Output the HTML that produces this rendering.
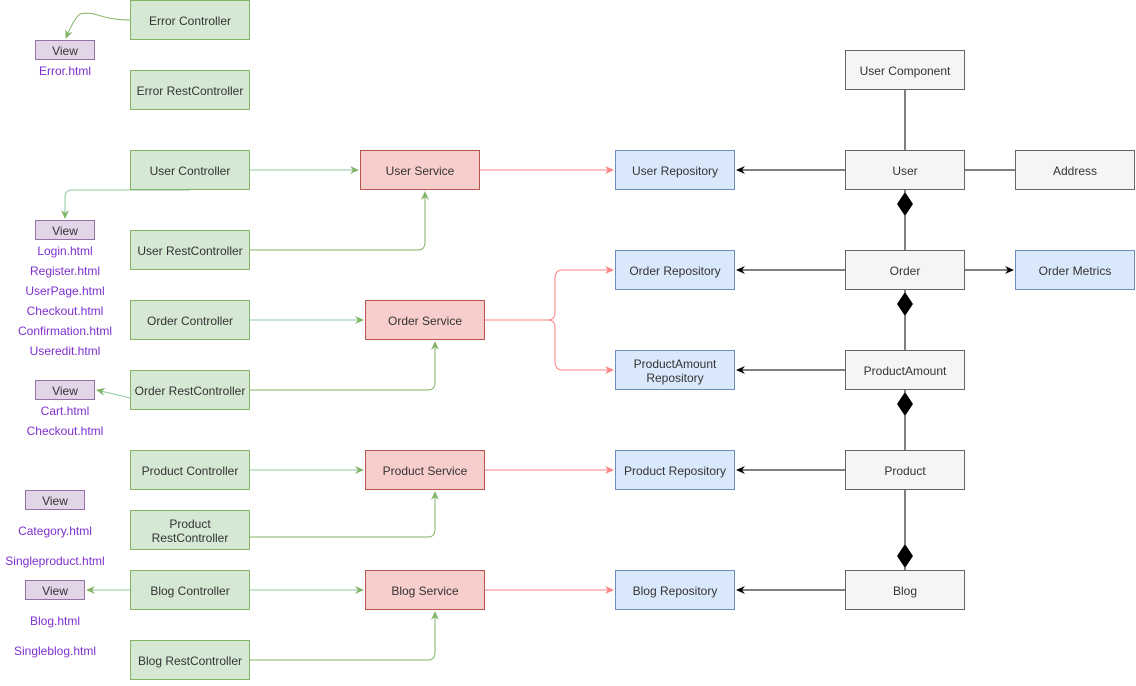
<!DOCTYPE html>
<html><head><meta charset="utf-8"><style>body{margin:0;background:#fff}svg text{font-family:"Liberation Sans",sans-serif;font-size:12px;fill:#333}</style></head>
<body>
<svg width="1136" height="681" viewBox="0 0 1136 681" xmlns="http://www.w3.org/2000/svg">
<defs>
<marker id="ag" markerWidth="10" markerHeight="10" refX="8" refY="5" orient="auto" markerUnits="userSpaceOnUse"><path d="M0,1 L9,5 L0,9 L3,5z" fill="#82b366"/></marker>
<marker id="ar" markerWidth="10" markerHeight="10" refX="8" refY="5" orient="auto" markerUnits="userSpaceOnUse"><path d="M0,1 L9,5 L0,9 L3,5z" fill="#ff8080"/></marker>
<marker id="ak" markerWidth="10" markerHeight="10" refX="8" refY="5" orient="auto" markerUnits="userSpaceOnUse"><path d="M0,1 L9,5 L0,9 L3,5z" fill="#000"/></marker>
</defs>
<g fill="none" stroke-width="1">
<path d="M130,20 C100,20 95,10 80,14 C75,18 70,28 66,38" stroke="#82b366" marker-end="url(#ag)"/>
<path d="M190,190 L72,190 Q65,190 65,198 L65,218" stroke="#8dc8a0" marker-end="url(#ag)"/>
<path d="M130,398 L97,390" stroke="#8dc8a0" marker-end="url(#ag)"/>
<path d="M130,590 L87,590" stroke="#8dc8a0" marker-end="url(#ag)"/>
<path d="M250,170 L358,170" stroke="#8dc8a0" marker-end="url(#ag)"/>
<path d="M250,320 L363,320" stroke="#8dc8a0" marker-end="url(#ag)"/>
<path d="M250,470 L363,470" stroke="#8dc8a0" marker-end="url(#ag)"/>
<path d="M250,590 L363,590" stroke="#8dc8a0" marker-end="url(#ag)"/>
<path d="M250,250 L418,250 Q425,250 425,242 L425,192" stroke="#82b366" marker-end="url(#ag)"/>
<path d="M250,390 L428,390 Q435,390 435,382 L435,342" stroke="#82b366" marker-end="url(#ag)"/>
<path d="M250,537 L428,537 Q435,537 435,529 L435,492" stroke="#82b366" marker-end="url(#ag)"/>
<path d="M250,660 L428,660 Q435,660 435,652 L435,612" stroke="#82b366" marker-end="url(#ag)"/>
<path d="M480,170 L613,170" stroke="#ff8080" marker-end="url(#ar)"/>
<path d="M485,320 L548,320 Q555,320 555,312 L555,278 Q555,270 563,270 L613,270" stroke="#ff8080" marker-end="url(#ar)"/>
<path d="M548,320 Q555,320 555,328 L555,362 Q555,370 563,370 L613,370" stroke="#ff8080" marker-end="url(#ar)"/>
<path d="M485,470 L613,470" stroke="#ff8080" marker-end="url(#ar)"/>
<path d="M485,590 L613,590" stroke="#ff8080" marker-end="url(#ar)"/>
<path d="M845,170 L737,170" stroke="#000" marker-end="url(#ak)"/>
<path d="M845,270 L737,270" stroke="#000" marker-end="url(#ak)"/>
<path d="M845,370 L737,370" stroke="#000" marker-end="url(#ak)"/>
<path d="M845,470 L737,470" stroke="#000" marker-end="url(#ak)"/>
<path d="M845,590 L737,590" stroke="#000" marker-end="url(#ak)"/>
<path d="M965,270 L1013,270" stroke="#000" marker-end="url(#ak)"/>
<path d="M965,170 L1015,170" stroke="#000"/>
<path d="M905,90 L905,150" stroke="#000"/>
<path d="M905,190 L905,250 M905,290 L905,350 M905,390 L905,450 M905,490 L905,570" stroke="#000"/>
</g>
<g fill="#000">
<path d="M905,192 L913,204 L905,216 L897,204z"/>
<path d="M905,292 L913,304 L905,316 L897,304z"/>
<path d="M905,392 L913,404 L905,416 L897,404z"/>
<path d="M905,544 L913,556 L905,568 L897,556z"/>
</g>
<g stroke-width="1">
<g fill="#d5e8d4" stroke="#82b366">
<rect x="130.5" y="0.5" width="119" height="39"/><rect x="130.5" y="70.5" width="119" height="39"/>
<rect x="130.5" y="150.5" width="119" height="39"/><rect x="130.5" y="230.5" width="119" height="39"/>
<rect x="130.5" y="300.5" width="119" height="39"/><rect x="130.5" y="370.5" width="119" height="39"/>
<rect x="130.5" y="450.5" width="119" height="39"/><rect x="130.5" y="510.5" width="119" height="39"/>
<rect x="130.5" y="570.5" width="119" height="39"/><rect x="130.5" y="640.5" width="119" height="39"/>
</g>
<g fill="#f8cecc" stroke="#b85450">
<rect x="360.5" y="150.5" width="119" height="39"/><rect x="365.5" y="300.5" width="119" height="39"/>
<rect x="365.5" y="450.5" width="119" height="39"/><rect x="365.5" y="570.5" width="119" height="39"/>
</g>
<g fill="#dae8fc" stroke="#6c8ebf">
<rect x="615.5" y="150.5" width="119" height="39"/><rect x="615.5" y="250.5" width="119" height="39"/>
<rect x="615.5" y="350.5" width="119" height="39"/><rect x="615.5" y="450.5" width="119" height="39"/>
<rect x="615.5" y="570.5" width="119" height="39"/><rect x="1015.5" y="250.5" width="119" height="39"/>
</g>
<g fill="#f5f5f5" stroke="#666">
<rect x="845.5" y="50.5" width="119" height="39"/><rect x="845.5" y="150.5" width="119" height="39"/>
<rect x="845.5" y="250.5" width="119" height="39"/><rect x="845.5" y="350.5" width="119" height="39"/>
<rect x="845.5" y="450.5" width="119" height="39"/><rect x="845.5" y="570.5" width="119" height="39"/>
<rect x="1015.5" y="150.5" width="119" height="39"/>
</g>
<g fill="#e1d5e7" stroke="#9673a6">
<rect x="35.5" y="40.5" width="59" height="19"/><rect x="35.5" y="220.5" width="59" height="19"/>
<rect x="35.5" y="380.5" width="59" height="19"/><rect x="25.5" y="490.5" width="59" height="19"/>
<rect x="25.5" y="580.5" width="59" height="19"/>
</g>
</g>
<g text-anchor="middle" dominant-baseline="central" transform="translate(0,1)">
<text x="190" y="20">Error Controller</text><text x="190" y="90">Error RestController</text>
<text x="190" y="170">User Controller</text><text x="190" y="250">User RestController</text>
<text x="190" y="320">Order Controller</text><text x="190" y="390">Order RestController</text>
<text x="190" y="470">Product Controller</text><text x="190" y="523">Product</text><text x="190" y="537">RestController</text>
<text x="190" y="590">Blog Controller</text><text x="190" y="660">Blog RestController</text>
<text x="420" y="170">User Service</text><text x="425" y="320">Order Service</text>
<text x="425" y="470">Product Service</text><text x="425" y="590">Blog Service</text>
<text x="675" y="170">User Repository</text><text x="675" y="270">Order Repository</text>
<text x="675" y="363">ProductAmount</text><text x="675" y="377">Repository</text>
<text x="675" y="470">Product Repository</text><text x="675" y="590">Blog Repository</text>
<text x="905" y="70">User Component</text><text x="905" y="170">User</text><text x="905" y="270">Order</text>
<text x="905" y="370">ProductAmount</text><text x="905" y="470">Product</text><text x="905" y="590">Blog</text>
<text x="1075" y="170">Address</text><text x="1075" y="270">Order Metrics</text>
<text x="65" y="50">View</text><text x="65" y="230">View</text><text x="65" y="390">View</text>
<text x="55" y="500">View</text><text x="55" y="590">View</text>
<text x="65" y="70" style="fill:#7e2fce">Error.html</text>
<text x="65" y="250" style="fill:#7e2fce">Login.html</text><text x="65" y="270" style="fill:#7e2fce">Register.html</text>
<text x="65" y="290" style="fill:#7e2fce">UserPage.html</text><text x="65" y="310" style="fill:#7e2fce">Checkout.html</text>
<text x="65" y="330" style="fill:#7e2fce">Confirmation.html</text><text x="65" y="350" style="fill:#7e2fce">Useredit.html</text>
<text x="65" y="410" style="fill:#7e2fce">Cart.html</text><text x="65" y="430" style="fill:#7e2fce">Checkout.html</text>
<text x="55" y="530" style="fill:#7e2fce">Category.html</text><text x="55" y="560" style="fill:#7e2fce">Singleproduct.html</text>
<text x="55" y="620" style="fill:#7e2fce">Blog.html</text><text x="55" y="650" style="fill:#7e2fce">Singleblog.html</text>
</g>
</svg>
</body></html>
